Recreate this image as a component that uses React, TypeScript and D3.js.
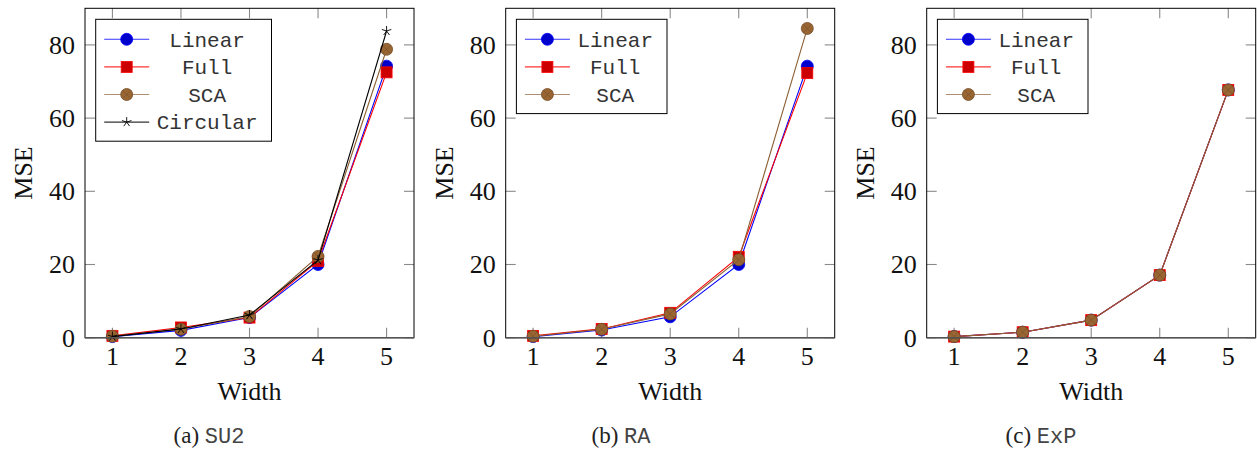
import React from "react";
import * as d3 from "d3";

// ---- data ----
const widths = [1, 2, 3, 4, 5];
const yTicks = [0, 20, 40, 60, 80];

const su2Linear = [0.3, 2.0, 5.5, 20.0, 74.2];
const su2Full = [0.5, 2.8, 5.5, 21.0, 72.5];
const su2Sca = [0.4, 2.3, 5.8, 22.2, 78.8];
const su2Circular = [0.3, 2.4, 6.2, 21.2, 83.8];

const raLinear = [0.3, 2.1, 5.7, 20.0, 74.2];
const raFull = [0.5, 2.4, 6.8, 22.1, 72.3];
const raSca = [0.4, 2.3, 6.5, 21.3, 84.5];

const expLinear = [0.3, 1.5, 4.8, 17.1, 67.7];
const expFull = [0.3, 1.5, 4.8, 17.1, 67.7];
const expSca = [0.3, 1.5, 4.8, 17.1, 67.7];

type Kind = "circle" | "square" | "otimes" | "star";
interface Series {
  name: string;
  values: number[];
  kind: Kind;
}

const STYLES: Record<Kind, { line: string; fill: string; stroke: string }> = {
  circle: { line: "#0000ff", fill: "#0000cc", stroke: "#0000ff" },
  square: { line: "#ff0000", fill: "#cc0000", stroke: "#ff0000" },
  otimes: { line: "#8c6035", fill: "#996633", stroke: "#734d26" },
  star: { line: "#000000", fill: "none", stroke: "#000000" },
};

const panels: { caption: string; tag: string; series: Series[]; left: number; capX: number }[] = [
  {
    caption: "(a)",
    tag: "SU2",
    left: 85,
    capX: 209,
    series: [
      { name: "Linear", values: su2Linear, kind: "circle" },
      { name: "Full", values: su2Full, kind: "square" },
      { name: "SCA", values: su2Sca, kind: "otimes" },
      { name: "Circular", values: su2Circular, kind: "star" },
    ],
  },
  {
    caption: "(b)",
    tag: "RA",
    left: 505.7,
    capX: 621,
    series: [
      { name: "Linear", values: raLinear, kind: "circle" },
      { name: "Full", values: raFull, kind: "square" },
      { name: "SCA", values: raSca, kind: "otimes" },
    ],
  },
  {
    caption: "(c)",
    tag: "ExP",
    left: 926.7,
    capX: 1041,
    series: [
      { name: "Linear", values: expLinear, kind: "circle" },
      { name: "Full", values: expFull, kind: "square" },
      { name: "SCA", values: expSca, kind: "otimes" },
    ],
  },
];

const PW = 329;
const TOP = 8.3;
const BOTTOM = 337.7;
const SERIF = "'Liberation Serif', 'Times New Roman', serif";
const MONO = "'Liberation Mono', 'Courier New', monospace";

function Marker({ kind, x, y, r = 6 }: { kind: Kind; x: number; y: number; r?: number }) {
  const s = STYLES[kind];
  if (kind === "circle") return <circle cx={x} cy={y} r={r} fill={s.fill} stroke={s.stroke} strokeWidth={0.8} />;
  if (kind === "square")
    return <rect x={x - r + 0.5} y={y - r + 0.5} width={2 * r - 1} height={2 * r - 1} fill={s.fill} stroke={s.stroke} strokeWidth={0.8} />;
  if (kind === "otimes") {
    const d = r * 0.7071;
    return (
      <g>
        <circle cx={x} cy={y} r={r} fill={s.fill} stroke={s.stroke} strokeWidth={0.8} />
        <path d={`M${x - d},${y - d}L${x + d},${y + d}M${x - d},${y + d}L${x + d},${y - d}`} stroke={s.stroke} strokeWidth={0.6} />
      </g>
    );
  }
  const rr = r - 1;
  const parts: string[] = [];
  for (let i = 0; i < 5; i++) {
    const a = ((90 + 72 * i) * Math.PI) / 180;
    parts.push(`M${x},${y}L${x + rr * Math.cos(a)},${y - rr * Math.sin(a)}`);
  }
  return <path d={parts.join("")} stroke="#000" strokeWidth={0.9} fill="none" />;
}

function Panel({ p }: { p: (typeof panels)[number] }) {
  const x = d3.scaleLinear().domain([0.6, 5.4]).range([p.left, p.left + PW]);
  const y = d3.scaleLinear().domain([0, 90]).range([BOTTOM, TOP]);
  const line = d3
    .line<number>()
    .x((_, i) => x(widths[i]))
    .y((v) => y(v));
  const tickLen = 10;
  const tickColor = "#8a8a8a";

  // legend layout
  const charW = 21 * 0.6;
  const maxChars = d3.max(p.series, (s) => s.name.length) || 0;
  const colW = maxChars * charW;
  const boxL = p.left + 10.7;
  const boxT = 19.3;
  const rowH = 27.6;
  const boxW = 61 + colW + 14;
  const boxH = 10 + rowH * p.series.length + 1.5;
  const textC = boxL + 61 + colW / 2;

  return (
    <g>
      {/* ticks */}
      {yTicks.map((t) => (
        <g key={"y" + t}>
          <line x1={p.left} x2={p.left + tickLen} y1={y(t)} y2={y(t)} stroke={tickColor} strokeWidth={1.1} />
          <line x1={p.left + PW} x2={p.left + PW - tickLen} y1={y(t)} y2={y(t)} stroke={tickColor} strokeWidth={1.1} />
          <text x={p.left - 10} y={y(t)} dy="0.34em" textAnchor="end" fontFamily={SERIF} fontSize={26} fill="#111">
            {t}
          </text>
        </g>
      ))}
      {widths.map((w) => (
        <g key={"x" + w}>
          <line x1={x(w)} x2={x(w)} y1={BOTTOM} y2={BOTTOM - tickLen} stroke={tickColor} strokeWidth={1.1} />
          <line x1={x(w)} x2={x(w)} y1={TOP} y2={TOP + tickLen} stroke={tickColor} strokeWidth={1.1} />
          <text x={x(w)} y={365} textAnchor="middle" fontFamily={SERIF} fontSize={26} fill="#111">
            {w}
          </text>
        </g>
      ))}
      {/* series */}
      {p.series.map((s) => (
        <g key={s.name}>
          <path d={line(s.values) || ""} fill="none" stroke={STYLES[s.kind].line} strokeWidth={1.1} />
          {s.values.map((v, i) => (
            <Marker key={i} kind={s.kind} x={x(widths[i])} y={y(v)} />
          ))}
        </g>
      ))}
      {/* frame */}
      <rect x={p.left} y={TOP} width={PW} height={BOTTOM - TOP} fill="none" stroke="#000" strokeWidth={1} />
      <line x1={p.left} x2={p.left + PW} y1={BOTTOM} y2={BOTTOM} stroke="#555" strokeWidth={1.5} />
      {/* legend */}
      <rect x={boxL} y={boxT} width={boxW} height={boxH} fill="#fff" stroke="#000" strokeWidth={1} />
      {p.series.map((s, i) => {
        const cy = boxT + 20 + i * rowH;
        return (
          <g key={"lg" + s.name}>
            <line x1={boxL + 8.5} x2={boxL + 53.5} y1={cy} y2={cy} stroke={STYLES[s.kind].line} strokeWidth={1.1} strokeOpacity={s.kind === "otimes" ? 0.7 : 0.8} />
            <Marker kind={s.kind} x={boxL + 31} y={cy} r={6} />
            <text x={textC} y={cy} dy="0.35em" textAnchor="middle" fontFamily={MONO} fontSize={21} fill="#333">
              {s.name}
            </text>
          </g>
        );
      })}
      {/* axis labels */}
      <text x={p.left + PW / 2} y={400} textAnchor="middle" fontFamily={SERIF} fontSize={26} fill="#111">
        Width
      </text>
      <text
        transform={`translate(${p.left - 53},${(TOP + BOTTOM) / 2}) rotate(-90)`}
        textAnchor="middle"
        fontFamily={SERIF}
        fontSize={26}
        fill="#111"
      >
        MSE
      </text>
      {/* caption */}
      <text x={p.capX} y={443} textAnchor="middle" fill="#222">
        <tspan fontFamily={SERIF} fontSize={23}>{p.caption} </tspan>
        <tspan fontFamily={MONO} fontSize={22} fill="#444">
          {p.tag}
        </tspan>
      </text>
    </g>
  );
}

export default function App() {
  return (
    <div style={{ position: "absolute", left: 0, top: 0 }}>
      <svg width={1257} height={450} style={{ display: "block", background: "#fff" }}>
        {panels.map((p) => (
          <Panel key={p.tag} p={p} />
        ))}
      </svg>
    </div>
  );
}
